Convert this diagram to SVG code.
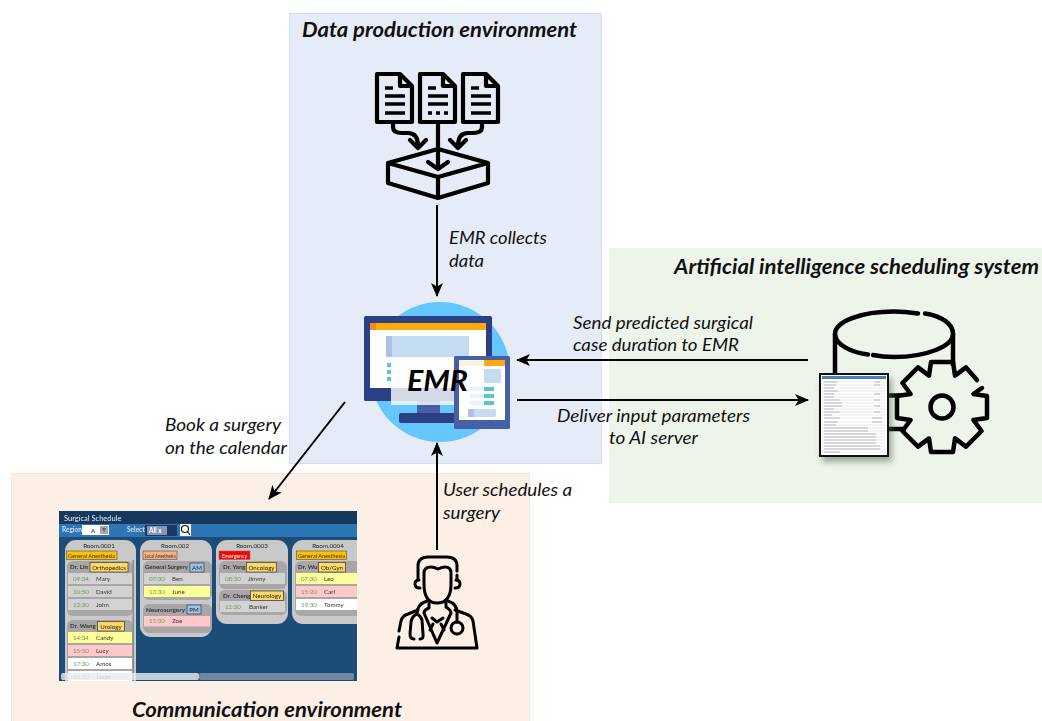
<svg xmlns="http://www.w3.org/2000/svg" width="1042" height="721" viewBox="0 0 1042 721">
<style>
text{font-family:"Lato","Liberation Sans",sans-serif}
.lb{font-size:17px;font-style:italic;fill:#111}
.tt{font-size:21px;font-style:italic;font-weight:700;fill:#111}
.ln{fill:none;stroke:#000;stroke-width:2;}
.ic{fill:none;stroke:#000;stroke-width:4.200;stroke-linecap:round;stroke-linejoin:round}
.ic2{fill:none;stroke:#000;stroke-width:3;stroke-linecap:round;stroke-linejoin:round}
.bar{fill:none;stroke:#000;stroke-width:3.400}
.ss{font-size:6.200px;fill:#333}
.t{font-size:6.200px;fill:#6f9a5c}
.m{font-size:6.200px;fill:#222;text-anchor:middle}
.sm{font-size:5.200px}
.room{fill:#c9c9c9}.grp{fill:#a8a6a6}
.r-g{fill:#d2d2d2}.r-y{fill:#ffff99}.r-p{fill:#ffc9c9}.r-w{fill:#fff}
.bd{fill:#ffd966;stroke:#4a4a4a;stroke-width:.8}
.bo{fill:#ffc000;stroke:#4a4a4a;stroke-width:.6}
.bb{fill:#9dc3e6;stroke:#3b4a5a;stroke-width:.8}
</style>
<defs>
<marker id="ah" viewBox="0 0 14 12" refX="13" refY="6" markerWidth="14" markerHeight="12" markerUnits="userSpaceOnUse" orient="auto"><path d="M0 0L14 6L0 12L3.500 6Z" fill="#000"/></marker>
<clipPath id="shot"><rect x="59" y="511" width="298" height="170"/></clipPath>
<filter id="sd" x="-20%" y="-20%" width="140%" height="140%"><feGaussianBlur stdDeviation="3"/></filter>
<filter id="soft" x="-2%" y="-2%" width="104%" height="104%"><feGaussianBlur stdDeviation="0.4"/></filter>
</defs>

<g id="panel-production"><rect x="289.500" y="13.500" width="312" height="450" fill="#e6ecf7" stroke="#d3e0f3"/></g>
<g id="panel-ai"><rect x="609" y="248" width="433" height="255" fill="#edf4e9"/></g>
<g id="panel-communication"><rect x="11.500" y="473.500" width="518" height="248" fill="#fcefe6" stroke="#f8e5d8"/></g>

<g id="node-documents">
<path class="ic" d="M377 74H400L412 86V122H377Z M400 75V86H412"/>
<path class="ic" d="M420 74H443L455 86V122H420Z M443 75V86H455"/>
<path class="ic" d="M463 74H486L498 86V122H463Z M486 75V86H498"/>
<path class="bar" d="M385 88H393M385 96H405M385 104H405M385 113H405"/>
<path class="bar" d="M428 88H436M428 96H448M428 104H448M428 113H432M436 113H440M444 113H448"/>
<path class="bar" d="M471 88H479M471 96H491M471 104H491M471 113H491"/>
<path class="ic" d="M393 122V127Q393 133 402 133H408Q418 133 418 146M410 140L418 148L426 140"/>
<path class="ic" d="M482 122V127Q482 133 473 133H468Q458 133 458 146M450 140L458 148L466 140"/>
<path class="ic" d="M438 122V169M428 162L438 169L448 162"/>
<path class="ic" d="M438 149L488 163L438 177L388 163Z M388 163V183L438 198L488 183V163M438 177V198"/>
</g>

<g id="node-emr">
<circle cx="440" cy="372" r="70" fill="#66c7ff"/>
<rect x="417" y="401" width="23" height="13" fill="#4560a5"/>
<rect x="399" y="413" width="71" height="10" rx="2" fill="#2b3f85"/>
<rect x="364" y="316" width="128" height="85" rx="1.500" fill="#2b3f85"/>
<rect x="370" y="323" width="116" height="65" fill="#fff"/>
<rect x="370" y="323" width="116" height="7" fill="#ffa90f"/>
<rect x="370" y="323" width="6" height="7" fill="#f58a1f"/>
<rect x="386" y="336" width="83" height="21" fill="#c3dbf3"/>
<rect x="386" y="336" width="6" height="21" fill="#aebfe8"/>
<path d="M390 365H414M418 365H433M390 372H414M390 379H414" stroke="#e8f4f8" stroke-width="4"/>
<path d="M387 365H391M387 372H391M387 379H391" stroke="#5fc3d8" stroke-width="4"/>
<rect x="391" y="360" width="79" height="45" fill="#fff" fill-opacity=".8"/>
<rect x="454" y="356" width="56" height="73" rx="1.500" fill="#4560a5"/>
<rect x="459" y="360" width="46" height="60" fill="#fff"/>
<rect x="459" y="360" width="25" height="6" fill="#fdf1e0"/>
<rect x="484" y="360" width="21" height="6" fill="#ffa90f"/>
<rect x="484" y="369" width="17" height="14" rx="1" fill="#c3dbf3"/>
<path d="M470 389H484M470 396H484M470 403H484" stroke="#e8f4f8" stroke-width="4"/>
<path d="M484 389H494M484 396H494M484 403H494" stroke="#5fc3d8" stroke-width="4"/>
<rect x="468" y="409" width="28" height="8" rx="2" fill="#c3dbf3"/>
<rect x="468" y="409" width="6" height="8" rx="1" fill="#aebfe8"/>
<text x="407" y="391" font-size="29" font-weight="700" font-style="italic" fill="#000" textLength="61" lengthAdjust="spacingAndGlyphs">EMR</text>
</g>

<g id="node-ai-server">
<path fill="none" stroke="#000" stroke-width="4.500" stroke-linecap="round" d="M918 313.500C908 312 901 311.500 894 311.500C861 311.500 835 321.500 835 334C835 344 850 352 868 354.500M873 355C880 356.500 887 357 894 357C927 357 953 346 953 334C953 324 942 316 925 313.500"/>
<path fill="none" stroke="#000" stroke-width="4.500" d="M835 334V376M953 334V366M888 395.500H900M888 429H906"/>
<path fill="none" stroke="#000" stroke-width="4.500" stroke-linejoin="round" stroke-linecap="round" d="M982 388L973.400 394L987 396V418L973.400 420L981.600 431L966 446.600L955 438.400L953 452H931L929 438.400L918 446.600L902.400 431L910.600 420L897 418V396L910.600 394L902.400 383L918 367.400L929 375.600L931 362H953L955 375.600L966 367.400L977 380"/>
<circle cx="942" cy="407" r="11.500" fill="none" stroke="#000" stroke-width="4.500"/>
<rect x="822" y="378" width="70" height="84" fill="#5a6a5a" fill-opacity=".55" filter="url(#sd)"/>
<rect x="820" y="374" width="68" height="82" fill="#fff" stroke="#111" stroke-width="2"/>
<rect x="822" y="376" width="64" height="3" fill="#4a7ebb"/>
<path stroke="#e2e5e8" stroke-width=".8" fill="none" d="M822 382H886M822 385H886M822 388H886M822 391H886M822 394H886M822 397H886M822 400H886M822 403H886M822 406H886M822 409H886M822 412H886M822 415H886M822 418H886M822 422H886M822 425H886M822 428H886M822 431H886M822 434H886M822 437H886M822 440H886M822 443H886M822 446H886M822 449H886M822 452H886"/>
<path stroke="#a4abb3" stroke-width=".8" fill="none" d="M824 382H838M824 385H836M824 388H834M824 391H838M824 394H834M824 397H834M824 400H840M824 403H842M824 406H842M824 409H834M824 412H840M824 415H832M824 418H840M824 422H838M824 425H836M824 428H868M824 431H868M824 434H876M824 437H876M824 440H876M824 443H876M824 446H880M824 449H880M824 452H840M874 382H880M874 385H880M874 394H880M874 400H880M874 406H880M874 412H880M872 418H882M872 422H882"/>
</g>

<g id="node-doctor">
<path class="ic2" d="M418 579V566Q418 557 428 557H447Q457 557 457 566V571M457 575V580"/>
<path class="ic2" d="M424 584V573Q424 567 431 567Q434 567 438 569Q442 567 445 567Q451 567 451 573V584Q451 603 437 603Q424 603 424 584Z"/>
<path class="ic2" d="M419 580Q415 580 415 584Q415 588 420 588M456 580Q460 580 460 584Q460 588 455 588"/>
<path class="ic2" d="M397 648L399 637M399 631L401 621Q402 616 408 614L418 610M398 648H477L473 621Q472 616 466 614L455 610"/>
<path class="ic2" d="M429 603V608Q424 610 424 613L437 643L451 613Q451 610 446 607V603"/>
<path class="ic2" d="M432 618L437 622L443 618M433 624L430 630M441 624L444 630"/>
<path class="ic2" d="M427 601Q417 604 417 614Q412 616 411 622L410 634Q410 639 414 639M420 639Q424 639 423 634L422 620Q421 616 417 614M448 601Q457 604 457 612V622"/>
<circle class="ic2" cx="457" cy="628" r="6"/>
</g>

<g id="node-schedule" clip-path="url(#shot)" filter="url(#soft)">
<rect x="59" y="511" width="298" height="170" fill="#1f4e79"/>
<rect x="59" y="511" width="298" height="13" fill="#17395c"/>
<rect x="59" y="524" width="298" height="13" fill="#2e74b5"/>
<text x="64" y="521" font-size="7.500" fill="#e8eef5">Surgical Schedule</text>
<text x="62" y="532" font-size="6.500" font-weight="700" fill="#cfe0f0">Region</text>
<rect x="82" y="525" width="27" height="10" fill="#fff"/><rect x="100" y="526" width="8" height="8" fill="#a6a6a6"/>
<text x="93" y="533" class="m">A</text><path d="M102 528H106L104 532Z" fill="#666"/>
<text x="127" y="532" font-size="6.500" font-weight="700" fill="#cfe0f0">Select</text>
<rect x="145" y="525" width="32" height="11" fill="#1f3864"/><rect x="147" y="526" width="20" height="9" fill="#8497b0"/>
<text x="149" y="533" font-size="6.500" font-weight="700" fill="#fff">All x</text>
<rect x="180" y="524" width="11" height="12" fill="#fff"/><circle cx="185" cy="529" r="3.500" fill="none" stroke="#111" stroke-width="1.200"/><path d="M187.500 531.500L190 535" stroke="#111" stroke-width="1.200"/>

<rect x="65" y="540" width="71" height="150" rx="11" class="room"/>
<text x="99" y="548" class="m">Room.0001</text>
<rect x="66.500" y="551" width="50.500" height="8.500" class="bo"/><text x="68" y="557.500" class="ss sm" textLength="47" lengthAdjust="spacingAndGlyphs">General Anesthesia</text>
<rect x="67" y="561" width="66" height="55" rx="6" class="grp"/>
<text x="70" y="569" class="ss" font-weight="700">Dr. Lin</text>
<rect x="90" y="562.500" width="38" height="9.500" class="bd"/><text x="109" y="569.500" class="m">Orthopedics</text>
<rect x="68" y="573" width="64" height="11" class="r-g"/><text x="73" y="580.500" class="t">09:34</text><text x="96" y="580.500" class="ss">Mary</text>
<rect x="68" y="586" width="64" height="11" class="r-g"/><text x="73" y="593.500" class="t">10:50</text><text x="96" y="593.500" class="ss">David</text>
<rect x="68" y="599" width="64" height="11" class="r-g"/><text x="73" y="606.500" class="t">12:30</text><text x="96" y="606.500" class="ss">John</text>
<rect x="67" y="620" width="66" height="70" rx="6" class="grp"/>
<text x="70" y="628" class="ss" font-weight="700">Dr. Wang</text>
<rect x="97.500" y="621.500" width="27" height="9.500" class="bd"/><text x="111" y="628.500" class="m">Urology</text>
<rect x="68" y="632" width="64" height="11" class="r-y"/><text x="73" y="639.500" class="t">14:34</text><text x="96" y="639.500" class="ss">Candy</text>
<rect x="68" y="645" width="64" height="11" class="r-p"/><text x="73" y="652.500" class="t">15:50</text><text x="96" y="652.500" class="ss">Lucy</text>
<rect x="68" y="658" width="64" height="11" class="r-w"/><text x="73" y="665.500" class="t">17:30</text><text x="96" y="665.500" class="ss">Amos</text>
<rect x="68" y="671" width="64" height="11" class="r-w"/><text x="73" y="678.500" class="t">20:30</text><text x="96" y="678.500" class="ss">Jason</text>
<rect x="132.500" y="560" width="1.500" height="122" fill="#8a8a8a"/>

<rect x="140" y="540" width="72" height="97" rx="11" class="room"/>
<text x="175" y="548" class="m">Room.002</text>
<rect x="143" y="551" width="34" height="8.500" fill="#f4b183" stroke="#4a4a4a" stroke-width=".6"/><text x="144.500" y="557.500" class="ss sm" textLength="31" lengthAdjust="spacingAndGlyphs">Local Anesthesia</text>
<rect x="143" y="561" width="69" height="39" rx="6" class="grp"/>
<text x="145" y="569" class="ss" font-weight="700" textLength="43" lengthAdjust="spacingAndGlyphs">General Surgery</text>
<rect x="190" y="563" width="14" height="9" class="bb"/><text x="197" y="570" class="m">AM</text>
<rect x="144" y="573" width="66" height="11" class="r-g"/><text x="149" y="580.500" class="t">07:30</text><text x="172" y="580.500" class="ss">Ben</text>
<rect x="144" y="586" width="66" height="11" class="r-y"/><text x="149" y="593.500" class="t">13:30</text><text x="172" y="593.500" class="ss">June</text>
<rect x="143" y="604" width="69" height="29" rx="6" class="grp"/>
<text x="146" y="612" class="ss" font-weight="700" textLength="39" lengthAdjust="spacingAndGlyphs">Neurosurgery</text>
<rect x="187" y="605" width="14" height="9" class="bb"/><text x="194" y="612" class="m">PM</text>
<rect x="144" y="616" width="66" height="10.500" class="r-p"/><text x="149" y="623" class="t">15:30</text><text x="172" y="623" class="ss">Zoe</text>

<rect x="216" y="540" width="72" height="84" rx="11" class="room"/>
<text x="252" y="548" class="m">Room.0003</text>
<rect x="219" y="551" width="31" height="8.500" fill="#ff0000" stroke="#777" stroke-width=".6"/><text x="234.500" y="557.500" class="m sm" style="fill:#fff">Emergency</text>
<rect x="219" y="561" width="68" height="28" rx="6" class="grp"/>
<text x="223" y="569" class="ss" font-weight="700">Dr. Yang</text>
<rect x="246.500" y="562.500" width="30" height="9.500" class="bd"/><text x="261.500" y="569.500" class="m">Oncology</text>
<rect x="220" y="573" width="65" height="11" class="r-g"/><text x="225" y="580.500" class="t">08:30</text><text x="248" y="580.500" class="ss">Jimmy</text>
<rect x="219" y="590" width="68" height="25" rx="6" class="grp"/>
<text x="223" y="598" class="ss" font-weight="700">Dr. Cheng</text>
<rect x="250.500" y="591" width="33" height="9.500" class="bd"/><text x="267" y="598" class="m">Neurology</text>
<rect x="220" y="601" width="65" height="11" class="r-g"/><text x="225" y="608.500" class="t">12:30</text><text x="249" y="608.500" class="ss">Banker</text>

<rect x="292" y="540" width="80" height="84" rx="11" class="room"/>
<text x="328" y="548" class="m">Room.0004</text>
<rect x="296.500" y="551" width="50" height="8.500" class="bo"/><text x="298" y="557.500" class="ss sm" textLength="47" lengthAdjust="spacingAndGlyphs">General Anesthesia</text>
<rect x="295" y="561" width="70" height="55" rx="6" class="grp"/>
<text x="298" y="569" class="ss" font-weight="700">Dr. Wu</text>
<rect x="318.500" y="562.500" width="27" height="9.500" class="bd"/><text x="332" y="569.500" class="m">Ob/Gyn</text>
<rect x="296" y="573" width="64" height="11" class="r-y"/><text x="301" y="580.500" class="t">07:30</text><text x="324" y="580.500" class="ss">Leo</text>
<rect x="296" y="586" width="64" height="11" class="r-p"/><text x="301" y="593.500" class="t">15:20</text><text x="324" y="593.500" class="ss">Carl</text>
<rect x="296" y="599" width="64" height="11" class="r-w"/><text x="301" y="606.500" class="t">19:30</text><text x="324" y="606.500" class="ss">Tommy</text>

<rect x="61" y="673" width="138" height="7" rx="2" fill="#e8ecef" fill-opacity=".8"/>
<rect x="199" y="673" width="155" height="7" rx="2" fill="#a6b0ba" fill-opacity=".6"/>
</g>

<g id="connectors">
<path class="ln" d="M437 205V296" marker-end="url(#ah)"/>
<path class="ln" d="M808 360H517" marker-end="url(#ah)"/>
<path class="ln" d="M517 400H808" marker-end="url(#ah)"/>
<path class="ln" d="M437 550V443" marker-end="url(#ah)"/>
<path class="ln" d="M345 402L269 499" marker-end="url(#ah)"/>
</g>

<g id="labels">
<text class="tt" x="302" y="37" textLength="275" lengthAdjust="spacingAndGlyphs">Data production environment</text>
<text class="tt" x="674" y="274" textLength="365" lengthAdjust="spacingAndGlyphs">Artificial intelligence scheduling system</text>
<text class="tt" x="132" y="717" textLength="270" lengthAdjust="spacingAndGlyphs">Communication environment</text>
<text class="lb" x="449" y="244" textLength="98" lengthAdjust="spacingAndGlyphs">EMR collects</text>
<text class="lb" x="449" y="267" textLength="35" lengthAdjust="spacingAndGlyphs">data</text>
<text class="lb" x="573" y="329" textLength="180" lengthAdjust="spacingAndGlyphs">Send predicted surgical</text>
<text class="lb" x="573" y="351" textLength="166" lengthAdjust="spacingAndGlyphs">case duration to EMR</text>
<text class="lb" x="557" y="422" textLength="193" lengthAdjust="spacingAndGlyphs">Deliver input parameters</text>
<text class="lb" x="609" y="444" textLength="89" lengthAdjust="spacingAndGlyphs">to AI server</text>
<text class="lb" x="165" y="431" textLength="116" lengthAdjust="spacingAndGlyphs">Book a surgery</text>
<text class="lb" x="165" y="454" textLength="122" lengthAdjust="spacingAndGlyphs">on the calendar</text>
<text class="lb" x="443" y="496" textLength="129" lengthAdjust="spacingAndGlyphs">User schedules a</text>
<text class="lb" x="443" y="519" textLength="57" lengthAdjust="spacingAndGlyphs">surgery</text>
</g>
</svg>
